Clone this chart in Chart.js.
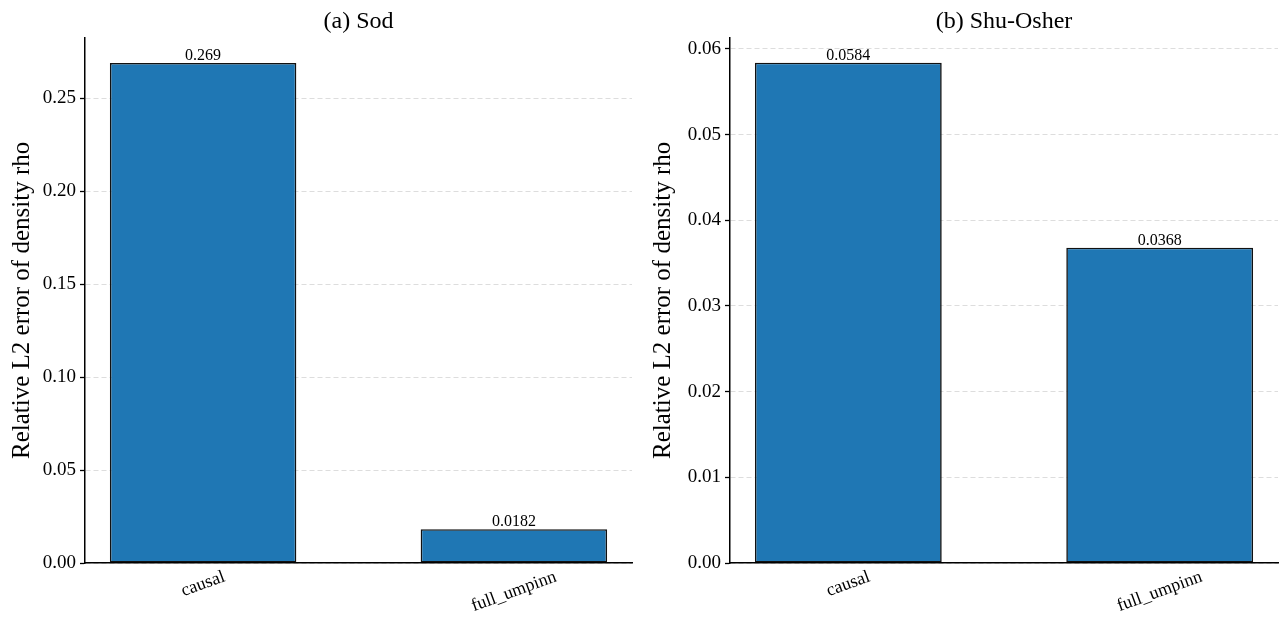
<!DOCTYPE html>
<html>
<head>
<meta charset="utf-8">
<script src="https://cdn.jsdelivr.net/npm/chart.js@4.4.1/dist/chart.umd.min.js"></script>
<style>
    html, body { margin: 0; padding: 0; background: #fff; }
    #wrap { position: relative; width: 1282px; height: 619px; }
    .panel { position: absolute; top: 0; width: 641px; height: 619px; }
</style>
</head>
<body>
<div id="wrap">
    <div class="panel" style="left:0"><canvas id="sodChart" width="641" height="619"></canvas></div>
    <div class="panel" style="left:641px"><canvas id="shuChart" width="641" height="619"></canvas></div>
</div>
<script>
// data
const methods = ['causal', 'full_umpinn'];
const sodErrors = [0.269, 0.0182];
const shuOsherErrors = [0.0584, 0.0368];
const sodTicks = [0, 0.05, 0.10, 0.15, 0.20, 0.25];
const shuOsherTicks = [0, 0.01, 0.02, 0.03, 0.04, 0.05, 0.06];
const sodYMax = 0.2825;
const shuOsherYMax = 0.0613;
const yLabel = 'Relative L2 error of density rho';

const SERIF = '"Liberation Serif", "Times New Roman", serif';

// value labels above bars + rotated category names under the axis
const barAnnotations = {
    id: 'barAnnotations',
    afterDraw(chart) {
        const ctx = chart.ctx;
        const meta = chart.getDatasetMeta(0);
        const values = chart.data.datasets[0].data;
        ctx.save();
        ctx.fillStyle = '#000';
        ctx.font = '16px ' + SERIF;
        ctx.textAlign = 'center';
        ctx.textBaseline = 'alphabetic';
        meta.data.forEach((bar, i) => {
            ctx.fillText(values[i].y.toPrecision(3), bar.x, bar.y - 3);
        });

        const xScale = chart.scales.x;
        const angle = 20 * Math.PI / 180;
        const size = 18;
        ctx.font = size + 'px ' + SERIF;
        ctx.textBaseline = 'middle';
        methods.forEach((name, i) => {
            const w = ctx.measureText(name).width;
            const boxH = w * Math.sin(angle) + size * Math.cos(angle);
            const cx = xScale.getPixelForValue(i);
            const cy = chart.chartArea.bottom + 5 + boxH / 2;
            ctx.save();
            ctx.translate(cx, cy);
            ctx.rotate(-angle);
            ctx.fillText(name, 0, 0);
            ctx.restore();
        });
        ctx.restore();
    }
};

function makeChart(canvasId, title, values, ticks, yMax, axisWidth, rightPad) {
    const ctx = document.getElementById(canvasId).getContext('2d');
    return new Chart(ctx, {
        type: 'bar',
        data: {
            datasets: [{
                data: values.map((v, i) => ({ x: i, y: v })),
                backgroundColor: '#1f77b4',
                borderColor: '#111',
                borderWidth: 1.6,
                borderSkipped: false,
                categoryPercentage: 1,
                barPercentage: 0.6
            }]
        },
        options: {
            responsive: false,
            animation: false,
            layout: { padding: { left: 0, right: rightPad, top: 0, bottom: 0 } },
            plugins: {
                legend: { display: false },
                tooltip: { enabled: false },
                title: {
                    display: true,
                    text: title,
                    fullSize: false,
                    color: '#000',
                    font: { family: SERIF, size: 24, weight: 'normal' },
                    padding: { top: 7, bottom: 2 }
                }
            },
            scales: {
                x: {
                    type: 'linear',
                    offset: false,
                    min: -0.38,
                    max: 1.38,
                    afterBuildTicks: function(scale) {
                        scale.ticks = methods.map((m, i) => ({ value: i }));
                    },
                    ticks: { display: false },
                    grid: { display: false },
                    border: { display: true, color: '#000', width: 1.5, z: 1 },
                    afterFit: function(scale) { scale.height = 56; }
                },
                y: {
                    min: 0,
                    max: yMax,
                    afterBuildTicks: function(scale) {
                        scale.ticks = ticks.map(v => ({ value: v }));
                    },
                    ticks: {
                        color: '#000',
                        padding: 4,
                        font: { family: SERIF, size: 19 },
                        callback: function(value) { return value.toFixed(2); }
                    },
                    grid: {
                        color: '#dddddd',
                        lineWidth: 1,
                        tickColor: '#000',
                        tickWidth: 1.3,
                        tickLength: 5,
                        tickBorderDash: []
                    },
                    border: { display: true, color: '#000', width: 1.5, dash: [5, 3], z: 1 },
                    title: {
                        display: true,
                        text: yLabel,
                        color: '#000',
                        font: { family: SERIF, size: 25 },
                        padding: { top: 7, bottom: 0 }
                    },
                    afterFit: function(scale) { scale.width = axisWidth; }
                }
            }
        },
        plugins: [barAnnotations]
    });
}

makeChart('sodChart', '(a) Sod', sodErrors, sodTicks, sodYMax, 85, 9);
makeChart('shuChart', '(b) Shu-Osher', shuOsherErrors, shuOsherTicks, shuOsherYMax, 89, 4);
</script>
</body>
</html>
